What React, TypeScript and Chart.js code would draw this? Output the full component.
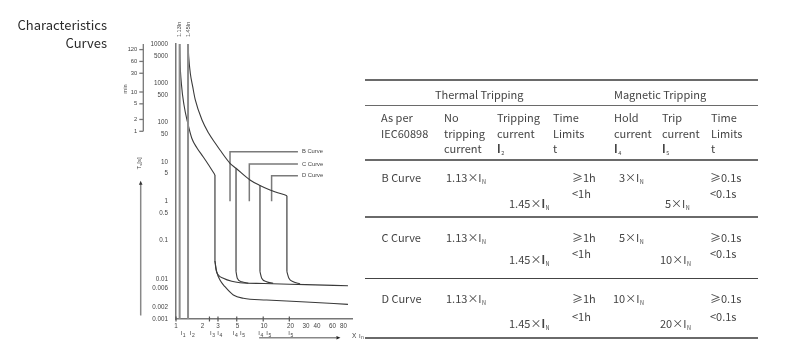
import React, { useEffect, useRef } from 'react';
import { Chart, registerables } from 'chart.js';

Chart.register(...registerables);

// ---------- Chart data ----------
const yTicks = [10000, 5000, 1000, 500, 100, 50, 10, 5, 1, 0.5, 0.1, 0.01, 0.006, 0.002, 0.001];
const yTickLabels = ['10000', '5000', '1000', '500', '100', '50', '10', '5', '1', '0.5', '0.1', '0.01', '0.006', '0.002', '0.001'];
const xTicks = [1, 2, 3, 5, 10, 20, 30, 40, 60, 80];
const xTickMarks = [1, 2.4, 3, 4.9, 9.8, 19.4];
const minuteTicks = [120, 60, 30, 10, 5, 2, 1];
const ratedLines = [1.1, 1.37];
const ratedLabels = ['1.13In', '1.45In'];

const iLabelSubs = ['1', '2', '3', '4', '4', '5', '4', '5', '5'];
const iLabelPos = [1.16, 1.47, 2.5, 3.02, 4.53, 5.47, 8.85, 10.9, 19.4];

// thermal release (lower / upper boundary)
const thermalLowX = [1.1, 1.11, 1.155, 1.233, 1.351, 1.508, 1.732, 2.043, 2.371, 2.77];
const thermalLowT = [10000, 3916, 904, 280, 103.5, 40.5, 22.5, 13.3, 8.08, 4.63];
const thermalHighX = [1.369, 1.394, 1.454, 1.548, 1.657, 1.975, 2.353, 2.797, 3.162, 4.108, 4.81, 6.93, 9.0, 11.7, 18.2];
const thermalHighT = [10000, 4750, 1796, 819, 376, 116, 53.4, 29.7, 20, 9.2, 6.86, 3.46, 2.5, 1.92, 1.38];

// magnetic release drops: x position, top time, bottom time
const dropX = [2.77, 4.81, 9.0, 18.2];
const dropTop = [4.63, 6.86, 2.5, 1.38];
const dropBottom = [0.03, 0.016, 0.016, 0.016];

// lower tail (from B drop)
const lowerTailX = [2.77, 2.9, 3.16, 3.6, 4.48, 5.82, 10.7, 30, 90];
const lowerTailT = [0.03, 0.016, 0.0098, 0.00665, 0.0041, 0.00336, 0.00305, 0.0027, 0.00236];
// upper tail (from B drop)
const upperTailX = [2.77, 2.85, 3.03, 3.45, 4.3, 5.34, 10, 30, 90];
const upperTailT = [0.03, 0.0177, 0.0132, 0.0109, 0.0091, 0.0084, 0.008, 0.0075, 0.007];
// corners of C, D, 20x drops joining the upper tail
const cornerCX = [4.81, 4.97, 5.58, 6.63];
const cornerCT = [0.016, 0.0109, 0.0089, 0.0082];
const cornerDX = [9.0, 9.42, 10.7, 12.7];
const cornerDT = [0.016, 0.0109, 0.0089, 0.0081];
const cornerEX = [18.2, 19.2, 21.5, 25.7];
const cornerET = [0.016, 0.0109, 0.0089, 0.0078];

// leader lines for curve names
const curveNames = ['B Curve', 'C Curve', 'D Curve'];
const leaderX = [4.11, 6.81, 12.2];
const leaderLevel = [18.2, 8.83, 4.45];
const leaderBottom = 1;
const leaderEnd = 24.3;

// ---------- Table data ----------
const thermalHeader = 'Thermal Tripping';
const magneticHeader = 'Magnetic Tripping';
const tableCurves = ['B Curve', 'C Curve', 'D Curve'];
const noTripFactor = '1.13';
const tripFactor = '1.45';
const holdFactors = ['3', '5', '10'];
const tripFactors = ['5', '10', '20'];
const thermalLimits = ['\u22651h', '<1h'];
const magneticLimits = ['\u22650.1s', '<0.1s'];

const zip = (xs: number[], ys: number[]) => xs.map((x, i) => ({ x, y: ys[i] }));

const CHART_FONT = '"Liberation Sans", Arial, sans-serif';
const TABLE_FONT = '"Noto Sans CJK SC", "Noto Sans", sans-serif';

const overlayPlugin = {
  id: 'overlay',
  afterDraw(chart: any) {
    const { ctx, chartArea } = chart;
    const xs = chart.scales.x;
    const ys = chart.scales.y;
    ctx.save();
    ctx.fillStyle = '#444';
    ctx.strokeStyle = '#666';

    // rated current labels (rotated)
    ctx.font = `5.5px ${CHART_FONT}`;
    ratedLines.forEach((v, i) => {
      const px = xs.getPixelForValue(v);
      ctx.save();
      ctx.translate(px, chartArea.top - 7);
      ctx.rotate(-Math.PI / 2);
      ctx.textAlign = 'left';
      ctx.textBaseline = 'middle';
      ctx.fillText(ratedLabels[i], 0, 0);
      ctx.restore();
    });

    // minute axis
    const mx = chartArea.left - 32.7;
    ctx.lineWidth = 1.3;
    ctx.strokeStyle = '#777';
    ctx.beginPath();
    ctx.moveTo(mx, chartArea.top);
    ctx.lineTo(mx, ys.getPixelForValue(60));
    ctx.stroke();
    ctx.font = `5.8px ${CHART_FONT}`;
    ctx.textAlign = 'right';
    ctx.textBaseline = 'middle';
    minuteTicks.forEach((m) => {
      const py = ys.getPixelForValue(m * 60);
      ctx.beginPath();
      ctx.moveTo(mx - 4, py);
      ctx.lineTo(mx, py);
      ctx.stroke();
      ctx.fillText(String(m), mx - 6, py);
    });
    ctx.save();
    ctx.translate(chartArea.left - 51, ys.getPixelForValue(600) - 3);
    ctx.rotate(-Math.PI / 2);
    ctx.textAlign = 'center';
    ctx.fillText('min', 0, 0);
    ctx.restore();

    // T_s[s] label and arrow
    const ax = chartArea.left - 35.3;
    ctx.save();
    ctx.translate(ax - 1.4, ys.getPixelForValue(10) + 1.5);
    ctx.rotate(-Math.PI / 2);
    ctx.textBaseline = 'middle';
    ctx.textAlign = 'left';
    ctx.font = `6px ${CHART_FONT}`;
    const wT = ctx.measureText('T').width;
    ctx.font = `4.2px ${CHART_FONT}`;
    const wS = ctx.measureText('s').width;
    ctx.font = `6px ${CHART_FONT}`;
    const wB = ctx.measureText('[s]').width;
    const start = -(wT + wS + wB) / 2;
    ctx.fillText('T', start, 0);
    ctx.font = `4.2px ${CHART_FONT}`;
    ctx.fillText('s', start + wT, 1.5);
    ctx.font = `6px ${CHART_FONT}`;
    ctx.fillText('[s]', start + wT + wS, 0);
    ctx.restore();

    ctx.strokeStyle = '#888';
    ctx.lineWidth = 1.5;
    const arrowTop = ys.getPixelForValue(10) + 19;
    ctx.beginPath();
    ctx.moveTo(ax, chartArea.bottom - 3.5);
    ctx.lineTo(ax, arrowTop + 3);
    ctx.stroke();
    ctx.fillStyle = '#333';
    ctx.beginPath();
    ctx.moveTo(ax, arrowTop);
    ctx.lineTo(ax - 1.8, arrowTop + 4);
    ctx.lineTo(ax + 1.8, arrowTop + 4);
    ctx.closePath();
    ctx.fill();

    // x tick marks
    ctx.strokeStyle = '#555';
    ctx.lineWidth = 1.2;
    xTickMarks.forEach((v) => {
      const px = xs.getPixelForValue(v);
      ctx.beginPath();
      ctx.moveTo(px, chartArea.bottom - 2.5);
      ctx.lineTo(px, chartArea.bottom + 2.5);
      ctx.stroke();
    });

    // I labels row
    ctx.fillStyle = '#444';
    ctx.textAlign = 'left';
    ctx.textBaseline = 'middle';
    const iy = chartArea.bottom + 14;
    iLabelPos.forEach((v, i) => {
      const px = xs.getPixelForValue(v);
      ctx.font = `6px ${CHART_FONT}`;
      ctx.fillText('I', px - 1, iy);
      ctx.font = `5px ${CHART_FONT}`;
      ctx.fillText(iLabelSubs[i], px + 1.2, iy + 2.2);
    });

    // x arrow and label
    const ay = chartArea.bottom + 18.7;
    const ax0 = xs.getPixelForValue(8.8);
    const ax1 = xs.getPixelForValue(72);
    ctx.strokeStyle = '#888';
    ctx.lineWidth = 1.5;
    ctx.beginPath();
    ctx.moveTo(ax0, ay);
    ctx.lineTo(ax1 - 3, ay);
    ctx.stroke();
    ctx.fillStyle = '#222';
    ctx.beginPath();
    ctx.moveTo(ax1 + 1, ay);
    ctx.lineTo(ax1 - 3, ay - 1.8);
    ctx.lineTo(ax1 - 3, ay + 1.8);
    ctx.closePath();
    ctx.fill();
    ctx.fillStyle = '#444';
    ctx.font = `6.5px ${CHART_FONT}`;
    const xl = chartArea.right;
    ctx.fillText('X', xl, chartArea.bottom + 17);
    ctx.font = `6px ${CHART_FONT}`;
    ctx.fillText('I', xl + 7, chartArea.bottom + 17);
    ctx.font = `5px ${CHART_FONT}`;
    ctx.fillText('n', xl + 9, chartArea.bottom + 19);

    // curve names
    ctx.font = `5.8px ${CHART_FONT}`;
    ctx.fillStyle = '#444';
    curveNames.forEach((n, i) => {
      const px = xs.getPixelForValue(leaderEnd) + 4;
      const py = ys.getPixelForValue(leaderLevel[i]);
      ctx.fillText(n, px, py);
    });

    ctx.restore();
  },
};

function CurveChart() {
  const ref = useRef<HTMLCanvasElement | null>(null);
  useEffect(() => {
    if (!ref.current) return;
    const mk = (data: any[], color: string, width: number, mono = false) => ({
      data,
      borderColor: color,
      borderWidth: width,
      pointRadius: 0,
      fill: false,
      tension: 0,
      cubicInterpolationMode: mono ? 'monotone' : 'default',
    });
    const datasets: any[] = [];
    ratedLines.forEach((v) => datasets.push(mk([{ x: v, y: 10000 }, { x: v, y: 0.001 }], '#8c8c8c', 2)));
    datasets.push(mk(zip(thermalLowX, thermalLowT), '#3a3a3a', 1.1, true));
    datasets.push(mk(zip(thermalHighX, thermalHighT), '#3a3a3a', 1.1, true));
    dropX.forEach((v, i) =>
      datasets.push(mk([{ x: v, y: dropTop[i] }, { x: v, y: dropBottom[i] }], '#666', 1.5))
    );
    datasets.push(mk(zip(lowerTailX, lowerTailT), '#3a3a3a', 1.1, true));
    datasets.push(mk(zip(upperTailX, upperTailT), '#3a3a3a', 1.1, true));
    datasets.push(mk(zip(cornerCX, cornerCT), '#3a3a3a', 1.1, true));
    datasets.push(mk(zip(cornerDX, cornerDT), '#3a3a3a', 1.1, true));
    datasets.push(mk(zip(cornerEX, cornerET), '#3a3a3a', 1.1, true));
    leaderX.forEach((v, i) =>
      datasets.push(
        mk(
          [
            { x: v, y: leaderBottom },
            { x: v, y: leaderLevel[i] },
            { x: leaderEnd, y: leaderLevel[i] },
          ],
          '#7a7a7a',
          1.5
        )
      )
    );

    const chart = new Chart(ref.current, {
      type: 'line',
      data: { datasets },
      options: {
        animation: false,
        responsive: false,
        events: [],
        layout: { padding: { left: 136, top: 44, right: 448, bottom: 13 } },
        plugins: { legend: { display: false }, tooltip: { enabled: false } },
        scales: {
          x: {
            type: 'logarithmic',
            min: 1,
            max: 100,
            afterFit: (s: any) => {
              s.height = 20;
            },
            afterBuildTicks: (s: any) => {
              s.ticks = xTicks.map((v) => ({ value: v }));
            },
            ticks: {
              autoSkip: false,
              maxRotation: 0,
              minRotation: 0,
              padding: 3,
              color: '#444',
              font: { size: 6.3, family: CHART_FONT },
              callback: (v: any) => String(v),
            },
            grid: { display: false, drawTicks: false },
            border: { display: true, color: '#777', width: 1.5 },
          },
          y: {
            type: 'logarithmic',
            min: 0.001,
            max: 10000,
            afterFit: (s: any) => {
              s.width = 40;
            },
            afterBuildTicks: (s: any) => {
              s.ticks = yTicks.map((v) => ({ value: v }));
            },
            ticks: {
              autoSkip: false,
              padding: 8,
              color: '#444',
              font: { size: 6.3, family: CHART_FONT },
              callback: (_v: any, i: number) => yTickLabels[i],
            },
            grid: { display: false, drawTicks: false },
            border: { display: true, color: '#777', width: 1.5 },
          },
        },
      } as any,
      plugins: [overlayPlugin],
    });
    return () => chart.destroy();
  }, []);
  return (
    <canvas
      ref={ref}
      width={800}
      height={352}
      style={{ position: 'absolute', left: 0, top: 0, width: 800, height: 352 }}
    />
  );
}

const T = ({ x, y, children, size = 11, color = '#444' }: any) => (
  <div
    style={{
      position: 'absolute',
      left: x,
      top: y - 8,
      lineHeight: '16px',
      fontSize: size,
      whiteSpace: 'nowrap',
      color,
      fontFamily: TABLE_FONT,
    }}
  >
    {children}
  </div>
);

const Sub = ({ children }: any) => (
  <span style={{ fontSize: 5.5, position: 'relative', top: 2, marginLeft: 0.5 }}>{children}</span>
);

const HLine = ({ y, w = 1.6, color = '#6a6a6a' }: any) => (
  <div
    style={{
      position: 'absolute',
      left: 365,
      width: 393,
      top: y - w / 2,
      height: w,
      background: color,
    }}
  />
);

const rowY = [177, 237, 298];
const lowY = [193, 253, 316];
const tripY = [203, 259, 323];
const holdX = [619, 619, 613];
const tripX = [665, 660, 660];

export default function App() {
  return (
    <div
      style={{
        position: 'fixed',
        left: 0,
        top: 0,
        width: 800,
        height: 352,
        background: '#fff',
        overflow: 'hidden',
      }}
    >
      <CurveChart />
      <div
        style={{
          position: 'absolute',
          right: 800 - 107,
          top: 16,
          textAlign: 'right',
          fontFamily: TABLE_FONT,
          fontSize: 13,
          lineHeight: '17.7px',
          color: '#2a2a2a',
        }}
      >
        Characteristics
        <br />
        Curves
      </div>

      <HLine y={80} />
      <T x={435} y={94}>{thermalHeader}</T>
      <T x={614} y={94}>{magneticHeader}</T>
      <HLine y={105.7} w={1.3} />

      <T x={381} y={117}>As per</T>
      <T x={381} y={133}>IEC60898</T>
      <T x={444} y={117}>No</T>
      <T x={444} y={133}>tripping</T>
      <T x={444} y={148}>current</T>
      <T x={497} y={117}>Tripping</T>
      <T x={497} y={133}>current</T>
      <T x={497} y={148}>
        <b>I</b>
        <Sub>2</Sub>
      </T>
      <T x={553} y={117}>Time</T>
      <T x={553} y={133}>Limits</T>
      <T x={553} y={148}>t</T>
      <T x={614} y={117}>Hold</T>
      <T x={614} y={133}>current</T>
      <T x={614} y={148}>
        <b>I</b>
        <Sub>4</Sub>
      </T>
      <T x={662} y={117}>Trip</T>
      <T x={662} y={133}>current</T>
      <T x={662} y={148}>
        <b>I</b>
        <Sub>5</Sub>
      </T>
      <T x={711} y={117}>Time</T>
      <T x={711} y={133}>Limits</T>
      <T x={711} y={148}>t</T>
      <HLine y={160} w={2} />

      {tableCurves.map((c, i) => (
        <React.Fragment key={c}>
          <T x={381.5} y={rowY[i]}>{c}</T>
          <T x={446} y={rowY[i]}>
            {noTripFactor}×I<Sub>N</Sub>
          </T>
          <T x={509} y={tripY[i]}>
            {tripFactor}×<b>I</b>
            <Sub>N</Sub>
          </T>
          <T x={572} y={rowY[i]}>{thermalLimits[0]}</T>
          <T x={572} y={lowY[i]}>{thermalLimits[1]}</T>
          <T x={holdX[i]} y={rowY[i]}>
            {holdFactors[i]}×I<Sub>N</Sub>
          </T>
          <T x={tripX[i]} y={tripY[i]}>
            {tripFactors[i]}×I<Sub>N</Sub>
          </T>
          <T x={710} y={rowY[i]}>{magneticLimits[0]}</T>
          <T x={710} y={lowY[i]}>{magneticLimits[1]}</T>
          <HLine y={[217.3, 278.3, 337.7][i]} w={i === 1 ? 1.3 : 2} color={i === 1 ? '#444' : '#6a6a6a'} />
        </React.Fragment>
      ))}
    </div>
  );
}
